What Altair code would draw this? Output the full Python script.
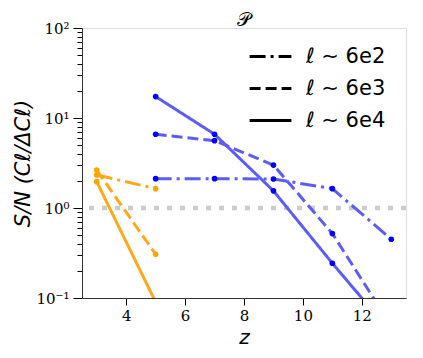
import altair as alt
import pandas as pd

# ---- data ----
orange_z = [3, 5]
orange_l6e2 = [2.33, 1.64]
orange_l6e3 = [2.64, 0.306]
orange_l6e4 = [1.96, 0.09]

blue_z = [5, 7, 9, 11, 13]
blue_l6e2 = [2.12, 2.12, 2.10, 1.64, 0.45]
blue_l6e3 = [6.6, 5.6, 3.0, 0.52, 0.049]
blue_l6e4 = [17.3, 6.6, 1.55, 0.243, 0.041]

ell_labels = ["ℓ ∼ 6e2", "ℓ ∼ 6e3", "ℓ ∼ 6e4"]
y_major = [0.1, 1, 10, 100]
y_minor = [m * d for d in [0.1, 1, 10] for m in range(2, 10)]
x_major = [4, 6, 8, 10, 12]

rows = []
for grp, zs, series in [("orange", orange_z, [orange_l6e2, orange_l6e3, orange_l6e4]),
                        ("blue", blue_z, [blue_l6e2, blue_l6e3, blue_l6e4])]:
    for lab, vals in zip(ell_labels, series):
        for z, v in zip(zs, vals):
            rows.append({"z": z, "sn": v, "grp": grp, "ell": lab, "sid": grp + lab})
df = pd.DataFrame(rows)

xscale = alt.Scale(domain=[2.5, 13.5], nice=False, zero=False)
yscale = alt.Scale(type="log", domain=[0.1, 100], nice=False)

is_major_y = "abs(log(datum.value)/LN10 - round(log(datum.value)/LN10)) < 1e-6"
ylabel_expr = ("datum.value == 100 ? '10²' : datum.value == 10 ? '10¹' : "
               "datum.value == 1 ? '10⁰' : datum.value == 0.1 ? '10⁻¹' : ''")

x_axis = alt.Axis(
    values=x_major,
    tickSize=7,
    labelFont="DejaVu Serif", labelFontSize=15, labelPadding=3,
    title="z", titleFont="DejaVu Sans", titleFontStyle="italic",
    titleFontSize=20, titleFontWeight="normal", titlePadding=4,
    grid=False, domainColor="#333333", tickColor="#000000", labelColor="#000000",
    titleColor="#000000",
)
y_axis = alt.Axis(
    values=y_major + y_minor,
    labelExpr=ylabel_expr,
    tickSize={"condition": {"test": is_major_y, "value": 9}, "value": 5},
    labelFont="DejaVu Serif", labelFontSize=15, labelPadding=4,
    title="S/N  (Cℓ/ΔCℓ)", titleFont="DejaVu Sans", titleFontStyle="italic",
    titleFontSize=21, titleFontWeight="normal", titlePadding=2,
    grid=False, domainColor="#333333", tickColor="#000000", labelColor="#000000",
    titleColor="#000000", labelFlush=False, labelOverlap=False,
)

base = alt.Chart(df)

ref = alt.Chart(pd.DataFrame({"y": [1]})).mark_rule(
    color="#cccccc", strokeWidth=4.5, strokeDash=[5, 8], strokeCap="butt"
).encode(y=alt.Y("y:Q", scale=yscale, axis=y_axis))

lines = base.mark_line(strokeWidth=3, clip=True).encode(
    x=alt.X("z:Q", scale=xscale, axis=x_axis),
    y=alt.Y("sn:Q", scale=yscale, axis=y_axis),
    detail="sid:N",
    color=alt.Color("grp:N", scale=alt.Scale(domain=["orange", "blue"],
                                             range=["#ffa81a", "#5c5cf8"]), legend=None),
    strokeDash=alt.StrokeDash(
        "ell:N",
        scale=alt.Scale(domain=ell_labels, range=[[16, 5, 3, 5], [11, 5], [1, 0]]),
        legend=alt.Legend(
            title=None, orient="none", legendX=166, legendY=13,
            symbolType="stroke", symbolStrokeColor="black", symbolStrokeWidth=3,
            symbolSize=1750, clipHeight=31, rowPadding=1, labelOffset=13,
            labelFont="DejaVu Sans", labelFontSize=21, labelColor="black",
            padding=0, labelLimit=300,
        ),
    ),
)

points = base.mark_circle(size=32, opacity=1, clip=True).encode(
    x=alt.X("z:Q", scale=xscale),
    y=alt.Y("sn:Q", scale=yscale),
    fill=alt.Fill("grp:N", scale=alt.Scale(domain=["orange", "blue"],
                                           range=["#ffa500", "#0000ff"]), legend=None),
)

chart = alt.layer(ref, lines, points).properties(
    width=324, height=270,
    title=alt.TitleParams("𝒫", fontSize=19, font="DejaVu Serif",
                          fontWeight="normal", dy=15,
                          offset=6, anchor="middle", color="black", frame="group"),
    autosize=alt.AutoSizeParams(type="none"),
    padding={"left": 74, "top": 20, "right": 9, "bottom": 52},
).configure_view(stroke="#333333", strokeWidth=1).configure(background="white")

chart.save("out.html", embed_options={"renderer": "svg", "actions": False})
